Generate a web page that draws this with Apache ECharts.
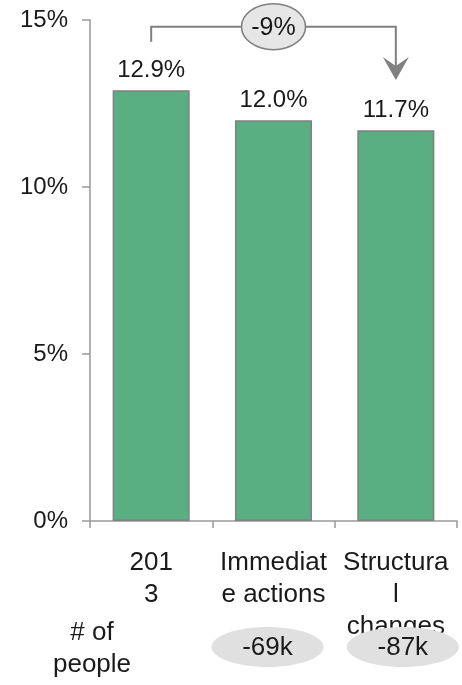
<!DOCTYPE html>
<html>
<head>
<meta charset="utf-8">
<script src="https://cdn.jsdelivr.net/npm/echarts@6/dist/echarts.min.js"></script>
<style>
  html, body { margin: 0; padding: 0; background: #fff; }
  #chart { width: 462px; height: 685px; }
</style>
</head>
<body>
<div id="chart"></div>
<script>
// Share of population (%) by scenario
const categories = ['2013', 'Immediate actions', 'Structural changes'];
const tickLabels = ['201\n3', 'Immediat\ne actions', 'Structura\nl\nchanges'];
const shareValues = [12.9, 12.0, 11.7];
const peopleChange = [null, '-69k', '-87k'];
const overallChange = '-9%';
const yTicks = [0, 5, 10, 15];

const FONT = '"Liberation Sans", Arial, sans-serif';
const FS = 24;      // axis values and bar labels
const FS_CAT = 26;  // category and people labels
const TEXT = '#1a1a1a';
const GREY = '#808080';

const chart = echarts.init(document.getElementById('chart'), null, { renderer: 'canvas' });

chart.setOption({
  animation: false,
  grid: { left: 90, right: 5, top: 20, bottom: 164, containLabel: false },
  xAxis: {
    type: 'category',
    data: categories,
    axisLine: { lineStyle: { color: '#999', width: 1.5 } },
    axisTick: { show: true, length: 7, lineStyle: { color: '#999', width: 1.5 } },
    axisLabel: {
      interval: 0,
      hideOverlap: false,
      margin: 26,
      fontFamily: FONT, fontSize: FS_CAT, color: TEXT, lineHeight: 32,
      formatter: (v, i) => tickLabels[i]
    }
  },
  yAxis: {
    type: 'value',
    min: yTicks[0], max: yTicks[yTicks.length - 1], interval: 5,
    splitLine: { show: false },
    axisLine: { show: true, lineStyle: { color: '#999', width: 1.5 } },
    axisTick: { show: true, length: 8, lineStyle: { color: '#999', width: 1.5 } },
    axisLabel: {
      margin: 22,
      fontFamily: FONT, fontSize: FS, color: TEXT,
      formatter: '{value}%'
    }
  },
  series: [{
    type: 'bar',
    data: shareValues,
    barWidth: '63%',
    itemStyle: { color: '#5aaf82', borderColor: GREY, borderWidth: 1.5 },
    label: {
      show: true, position: 'top', distance: 8,
      fontFamily: FONT, fontSize: FS, color: TEXT,
      formatter: p => p.value.toFixed(1) + '%'
    }
  }]
});

// Annotations placed from the axis scales
const px = (i, v) => chart.convertToPixel({ xAxisIndex: 0, yAxisIndex: 0 }, [i, v]);
const first = px(0, shareValues[0]);
const last = px(2, shareValues[2]);
const yBracket = px(0, 14.8)[1];
const yStart = px(0, 14.35)[1];
const yTip = px(0, 13.2)[1];
const midX = (first[0] + last[0]) / 2;
const baseY = px(0, 0)[1];
const pillShift = [0, -6, 7];

const graphics = [
  {
    type: 'polyline', z: 50,
    shape: { points: [[first[0], yStart], [first[0], yBracket], [last[0], yBracket], [last[0], yTip - 14]] },
    style: { stroke: GREY, lineWidth: 2, fill: null }
  },
  {
    type: 'polygon', z: 50,
    shape: { points: [[last[0] - 13, yTip - 23], [last[0], yTip - 14], [last[0] + 13, yTip - 23], [last[0], yTip]] },
    style: { fill: GREY }
  },
  {
    type: 'ellipse', z: 60,
    shape: { cx: midX, cy: yBracket, rx: 32, ry: 23 },
    style: { fill: '#e6e6e6', stroke: GREY, lineWidth: 1.5 }
  },
  {
    type: 'text', z: 61,
    x: midX, y: yBracket + 1,
    style: { text: overallChange, fontFamily: FONT, fontSize: 25, fill: TEXT, align: 'center', verticalAlign: 'middle' }
  },
  {
    type: 'text', z: 61,
    x: 92, y: baseY + 128,
    style: { text: '# of\npeople', fontFamily: FONT, fontSize: FS_CAT, lineHeight: 32, fill: TEXT, align: 'center', verticalAlign: 'middle' }
  }
];

peopleChange.forEach((t, i) => {
  if (!t) return;
  const cx = px(i, 0)[0] + pillShift[i];
  graphics.push({
    type: 'ellipse', z: 60,
    shape: { cx: cx, cy: baseY + 126, rx: 56, ry: 20 },
    style: { fill: '#e0e0e0' }
  });
  graphics.push({
    type: 'text', z: 61,
    x: cx, y: baseY + 127,
    style: { text: t, fontFamily: FONT, fontSize: FS_CAT, fill: TEXT, align: 'center', verticalAlign: 'middle' }
  });
});

chart.setOption({ graphic: graphics });
</script>
</body>
</html>
